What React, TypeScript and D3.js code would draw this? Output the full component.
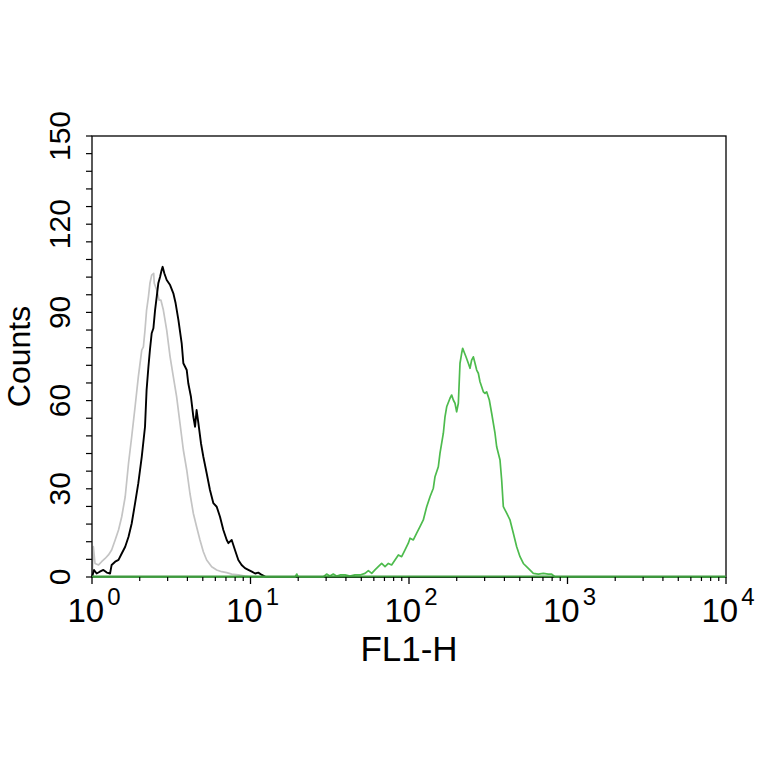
import React from "react";
import * as d3 from "d3";

// ---- Data (FL1-H value, counts) ----
const grayFL1 = [1.0, 1.005, 1.02, 1.045, 1.1, 1.15, 1.21, 1.27, 1.33, 1.4, 1.47, 1.54, 1.62, 1.7, 1.78, 1.87, 1.96, 2.06, 2.11, 2.16, 2.21, 2.27, 2.32, 2.38, 2.45, 2.47, 2.56, 2.65, 2.72, 2.82, 2.96, 3.11, 3.26, 3.42, 3.59, 3.77, 3.96, 4.15, 4.36, 4.57, 4.8, 5.04, 5.29, 5.69, 6.12, 6.58, 7.08, 7.61, 8.38, 9.23, 10.2, 10000];
const grayCounts = [0, 0.7, 10.3, 4.6, 4.1, 5.2, 6.3, 7.5, 9.2, 12.6, 16, 20.5, 27.3, 38.7, 47.7, 57.9, 68.1, 77.2, 78.3, 84, 90.8, 95.3, 99.9, 102.7, 103.3, 99.9, 97.6, 94.2, 94.2, 90.8, 84, 74.9, 68.1, 61.3, 52.3, 43.2, 36.4, 28.4, 21.6, 17.1, 12.6, 8.6, 5.8, 3.5, 2.4, 1.8, 1.5, 1.0, 0.7, 0.3, 0, 0];

const blackFL1 = [1.0, 1.03, 1.07, 1.12, 1.18, 1.24, 1.3, 1.33, 1.4, 1.47, 1.54, 1.62, 1.7, 1.78, 1.87, 1.96, 2.06, 2.16, 2.21, 2.27, 2.32, 2.38, 2.44, 2.5, 2.56, 2.62, 2.69, 2.75, 2.79, 2.86, 2.96, 3.11, 3.26, 3.37, 3.51, 3.68, 3.77, 3.96, 4.05, 4.21, 4.36, 4.47, 4.57, 4.69, 4.87, 5.04, 5.29, 5.55, 5.83, 6.12, 6.42, 6.74, 7.08, 7.25, 7.61, 7.98, 8.38, 8.79, 9.23, 9.69, 10.2, 10.7, 11.2, 11.8, 12.5, 10000];
const blackCounts = [0, 2.4, 1.2, 1.8, 2.4, 1.5, 1.2, 4.1, 5.2, 5.8, 8.0, 10.3, 13.7, 18.2, 25.1, 31.9, 40.9, 51.1, 63.6, 71.5, 77.2, 82.9, 84.6, 90.8, 95.3, 99.9, 102.1, 104.4, 105.5, 103.3, 101, 99.3, 96.5, 93.1, 87.4, 79.5, 72.7, 70.4, 65.9, 61.3, 54.5, 51.1, 56.8, 52.3, 45.5, 40.9, 35.3, 29.6, 25.1, 23.9, 20.5, 16, 12.6, 11.5, 12.6, 9.2, 5.8, 4.1, 3.0, 2.4, 1.8, 1.2, 1.5, 0.7, 0, 0];

const greenFL1 = [1, 19.1, 19.6, 20.0, 28.8, 30.2, 31.7, 33.3, 35.0, 36.7, 39.5, 42.4, 45.6, 49.1, 52.8, 55.4, 58.2, 61.0, 64.0, 67.2, 70.6, 74.1, 77.7, 81.6, 85.7, 89.9, 94.4, 99.0, 101.5, 106.5, 111.8, 117.3, 123.1, 129.3, 135.7, 142.4, 145.9, 153.1, 156.9, 164.7, 168.7, 172.9, 181.4, 185.9, 190.4, 195.1, 199.8, 204.8, 209.8, 214.9, 218.1, 222.3, 228.8, 236.7, 242.6, 248.5, 254.6, 260.9, 267.3, 273.8, 280.5, 287.4, 294.4, 301.6, 309.0, 321.2, 332.3, 348.8, 357.4, 375.1, 384.3, 393.7, 413.3, 433.7, 455.3, 477.9, 501.6, 526.5, 566.1, 608.6, 654.6, 703.9, 756.9, 794.6, 834.0, 10000];
const greenCounts = [0, 0, 1.0, 0, 0, 1.0, 0.34, 1.0, 0.3, 0.7, 0.7, 0.3, 0.7, 0.7, 1.25, 2.2, 1.25, 2.4, 3.5, 4.6, 3.5, 4.6, 4.1, 5.8, 7.5, 6.9, 9.2, 11.5, 13.2, 12.6, 14.9, 17.1, 19.4, 23.9, 27.3, 30.2, 34.1, 37.5, 42.1, 48.9, 54.5, 57.9, 60.8, 61.9, 60.2, 59.1, 56.2, 59.1, 72.7, 76.1, 77.8, 76.6, 74.9, 72.7, 71, 73.8, 74.9, 72.7, 70.4, 69.3, 66.4, 64.7, 63, 62.5, 63, 60.2, 55.7, 48.9, 44.3, 39.8, 33, 23.9, 21.7, 19.4, 14.9, 10.3, 6.9, 4.6, 2.9, 1.25, 1.0, 1.25, 1.0, 1.0, 0, 0];

const yTickLabels = [0, 30, 60, 90, 120, 150];
const xDecades = [0, 1, 2, 3, 4];
const xTitle = "FL1-H";
const yTitle = "Counts";

const FONT = "'Liberation Sans', Arial, Helvetica, sans-serif";

export default function App() {
  const W = 764, H = 764;
  const left = 92, right = 726, top = 136, bottom = 577;
  const x = d3.scaleLog().domain([1, 10000]).range([left, right]);
  const y = d3.scaleLinear().domain([0, 150]).range([bottom, top]);

  const line = d3.line<[number, number]>()
    .x((d) => x(d[0]))
    .y((d) => y(d[1]))
    .curve(d3.curveLinear);

  const zip = (a: number[], b: number[]) => a.map((v, i) => [v, b[i]] as [number, number]);

  const yMinor = d3.range(0, 151, 6);
  const xMinor: number[] = [];
  for (let dcd = 0; dcd < 4; dcd++) for (let k = 2; k <= 9; k++) xMinor.push(k * Math.pow(10, dcd));

  return (
    <svg width={W} height={H} style={{ position: "absolute", left: 0, top: 0, background: "#fff" }}>
      <rect x={0} y={0} width={W} height={H} fill="#fff" />
      {/* curves */}
      <path d={line(zip(grayFL1, grayCounts)) || ""} fill="none" stroke="#c4c4c4" strokeWidth={1.7} strokeLinejoin="round" />
      <path d={line(zip(blackFL1, blackCounts)) || ""} fill="none" stroke="#000" strokeWidth={1.9} strokeLinejoin="round" />
      {/* frame */}
      <rect x={left} y={top} width={right - left} height={bottom - top} fill="none" stroke="#000" strokeWidth={1.3} />
      <path d={line(zip(greenFL1, greenCounts)) || ""} fill="none" stroke="#4dbb4d" strokeWidth={1.7} strokeLinejoin="round" />
      <line x1={x(1)} x2={x(10000)} y1={y(0) - 0.5} y2={y(0) - 0.5} stroke="#3e9a3e" strokeWidth={2.2} />
      {/* y ticks */}
      {yMinor.map((t) => (
        <line key={"yt" + t} x1={left - 6} x2={left} y1={y(t)} y2={y(t)} stroke="#000" strokeWidth={1.2} />
      ))}
      {yTickLabels.map((t) => (
        <text key={"yl" + t} transform={`translate(70,${y(t)}) rotate(-90)`} textAnchor="middle"
          fontFamily={FONT} fontSize={30} fill="#000">{t}</text>
      ))}
      {/* x ticks */}
      {xMinor.map((t) => (
        <line key={"xm" + t} x1={x(t)} x2={x(t)} y1={bottom} y2={bottom + 4} stroke="#000" strokeWidth={1.2} />
      ))}
      {xDecades.map((d) => (
        <line key={"xM" + d} x1={x(Math.pow(10, d))} x2={x(Math.pow(10, d))} y1={bottom} y2={bottom + 7} stroke="#000" strokeWidth={1.3} />
      ))}
      {xDecades.map((d) => (
        <text key={"xl" + d} x={x(Math.pow(10, d)) + 2} y={622} textAnchor="middle" fontFamily={FONT} fontSize={33} fill="#000">
          10<tspan dx={3} dy={-17} fontSize={24}>{d}</tspan>
        </text>
      ))}
      {/* titles */}
      <text x={(left + right) / 2} y={661} textAnchor="middle" fontFamily={FONT} fontSize={35} fill="#000">{xTitle}</text>
      <text transform={`translate(30,${(top + bottom) / 2}) rotate(-90)`} textAnchor="middle" fontFamily={FONT} fontSize={32} fill="#000">{yTitle}</text>
    </svg>
  );
}
